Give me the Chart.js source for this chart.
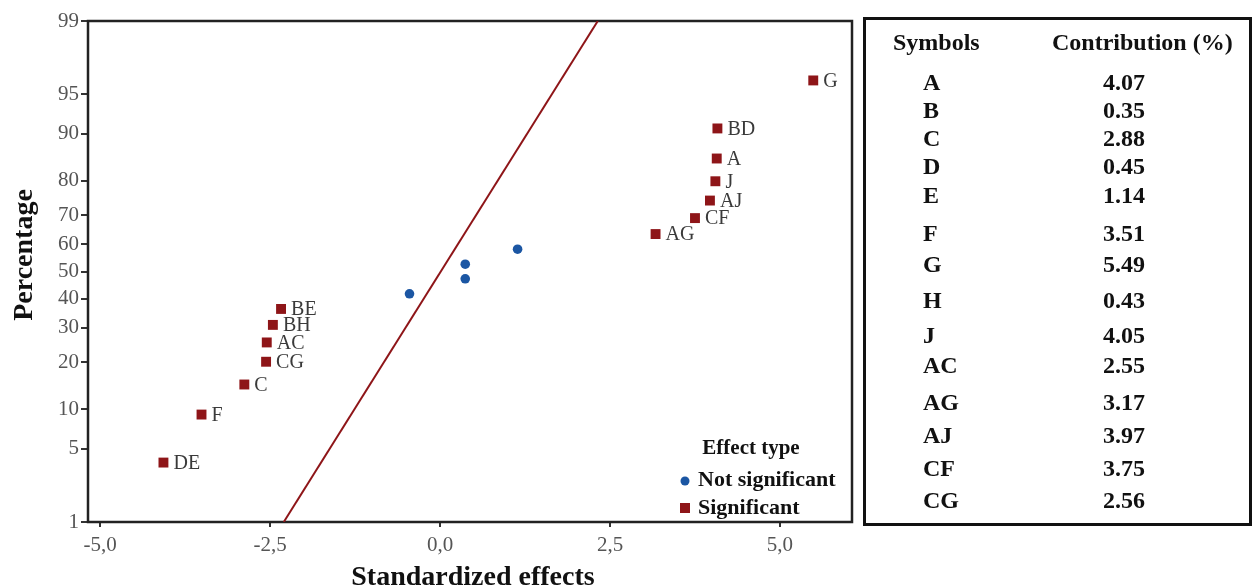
<!DOCTYPE html>
<html>
<head>
<meta charset="utf-8">
<script src="https://cdn.jsdelivr.net/npm/chart.js@4.4.1/dist/chart.umd.min.js"></script>
<style>
  html, body { margin: 0; padding: 0; background: #fff; }
  #wrap { position: relative; width: 1256px; height: 587px; overflow: hidden; }
  #chartBox { position: absolute; left: 0; top: 0; width: 1256px; height: 587px; }
  #tbl {
    position: absolute; left: 863px; top: 17px; width: 383px; height: 503px;
    border: 3px solid #111; font-family: "Liberation Serif", serif;
    font-weight: bold; font-size: 24px; color: #111;
  }
  #tbl div { position: absolute; white-space: nowrap; line-height: 1; transform: translateY(-50%); }
</style>
</head>
<body>
<div id="wrap">
  <div id="chartBox"><canvas id="normplot"></canvas></div>
  <div id="tbl"></div>
</div>
<script>
// significant effects (red squares), sorted by effect
const sigLabels = ["DE", "F", "C", "CG", "AC", "BH", "BE", "AG", "CF", "AJ", "J", "A", "BD", "G"];
const sigEffects = [-4.07, -3.51, -2.88, -2.56, -2.55, -2.46, -2.34, 3.17, 3.75, 3.97, 4.05, 4.07, 4.08, 5.49];
const sigPercent = [3.8, 9.2, 14.7, 20.1, 25.5, 31.0, 36.4, 63.6, 69.0, 74.5, 79.9, 85.3, 90.8, 96.2];

// not significant effects (blue dots)
const nsEffects = [-0.45, 0.37, 0.37, 1.14];
const nsPercent = [41.8, 47.3, 52.7, 58.2];

// reference line ends
const refEffects = [-2.3, 2.32];
const refPercent = [1, 99];

// axis ticks
const xTicks = [-5, -2.5, 0, 2.5, 5];
const yTicks = [1, 5, 10, 20, 30, 40, 50, 60, 70, 80, 90, 95, 99];

// table on the right
const symbols = ["A", "B", "C", "D", "E", "F", "G", "H", "J", "AC", "AG", "AJ", "CF", "CG"];
const contributions = ["4.07", "0.35", "2.88", "0.45", "1.14", "3.51", "5.49", "0.43", "4.05", "2.55", "3.17", "3.97", "3.75", "2.56"];
// row centres (px from top of page), layout only
const rowY = [82, 110, 138, 166, 195, 233, 264, 300, 335, 365, 402, 435, 468, 500];

const RED = "#8e1518";
const BLUE = "#1b56a3";
const SERIF = "'Liberation Serif', 'Times New Roman', serif";

// inverse normal cdf (Acklam)
function probit(p) {
  const a = [-3.969683028665376e+01, 2.209460984245205e+02, -2.759285104469687e+02, 1.383577518672690e+02, -3.066479806614716e+01, 2.506628277459239e+00];
  const b = [-5.447609879822406e+01, 1.615858368580409e+02, -1.556989798598866e+02, 6.680131188771972e+01, -1.328068155288572e+01];
  const c = [-7.784894002430293e-03, -3.223964580411365e-01, -2.400758277161838e+00, -2.549732539343734e+00, 4.374664141464968e+00, 2.938163982698783e+00];
  const d = [7.784695709041462e-03, 3.224671290700398e-01, 2.445134137142996e+00, 3.754408661907416e+00];
  const pl = 0.02425;
  let q, r;
  if (p < pl) {
    q = Math.sqrt(-2 * Math.log(p));
    return (((((c[0] * q + c[1]) * q + c[2]) * q + c[3]) * q + c[4]) * q + c[5]) / ((((d[0] * q + d[1]) * q + d[2]) * q + d[3]) * q + 1);
  }
  if (p > 1 - pl) {
    q = Math.sqrt(-2 * Math.log(1 - p));
    return -(((((c[0] * q + c[1]) * q + c[2]) * q + c[3]) * q + c[4]) * q + c[5]) / ((((d[0] * q + d[1]) * q + d[2]) * q + d[3]) * q + 1);
  }
  q = p - 0.5; r = q * q;
  return (((((a[0] * r + a[1]) * r + a[2]) * r + a[3]) * r + a[4]) * r + a[5]) * q / (((((b[0] * r + b[1]) * r + b[2]) * r + b[3]) * r + b[4]) * r + 1);
}

function normCdf(z) {
  const t = 1 / (1 + 0.3275911 * Math.abs(z) / Math.SQRT2);
  const y = 1 - (((((1.061405429 * t - 1.453152027) * t) + 1.421413741) * t - 0.284496736) * t + 0.254829592) * t * Math.exp(-z * z / 2);
  return z >= 0 ? 0.5 * (1 + y) : 0.5 * (1 - y);
}

// probability (normal) scale, values in percent
class ProbitScale extends Chart.Scale {
  determineDataLimits() {
    this.min = this.options.min;
    this.max = this.options.max;
  }
  buildTicks() {
    return yTicks.map((v) => ({ value: v }));
  }
  getLabelForValue(v) {
    return String(v);
  }
  configure() {
    super.configure();
    this._zmin = probit(this.min / 100);
    this._zmax = probit(this.max / 100);
  }
  getPixelForValue(v) {
    const z = probit(v / 100);
    return this.getPixelForDecimal((z - this._zmin) / (this._zmax - this._zmin));
  }
  getValueForPixel(px) {
    const dec = this.getDecimalForPixel(px);
    return normCdf(this._zmin + dec * (this._zmax - this._zmin)) * 100;
  }
}
ProbitScale.id = "probit";
ProbitScale.defaults = {};
Chart.register(ProbitScale);

// frame, axis titles, point labels, legend
const decorPlugin = {
  id: "decor",
  beforeDatasetsDraw(chart) {
    const ctx = chart.ctx;
    const a = chart.chartArea;
    ctx.save();
    ctx.strokeStyle = "#222";
    ctx.lineWidth = 2.5;
    ctx.strokeRect(a.left, a.top, a.right - a.left, a.bottom - a.top);
    ctx.restore();
  },
  afterDatasetsDraw(chart) {
    const ctx = chart.ctx;
    ctx.save();
    // labels next to the significant effects
    const meta = chart.getDatasetMeta(0);
    ctx.font = "20px " + SERIF;
    ctx.fillStyle = "#3a3a3a";
    ctx.textBaseline = "middle";
    ctx.textAlign = "left";
    meta.data.forEach((el, i) => {
      ctx.fillText(sigLabels[i], el.x + 10, el.y + 1);
    });

    // legend
    ctx.fillStyle = "#111";
    ctx.font = "bold 21px " + SERIF;
    ctx.textAlign = "center";
    ctx.fillText("Effect type", 751, 449);
    ctx.textAlign = "left";
    ctx.font = "bold 22px " + SERIF;
    ctx.fillText("Not significant", 698, 480);
    ctx.fillText("Significant", 698, 508);
    ctx.fillStyle = BLUE;
    ctx.beginPath();
    ctx.arc(685, 481, 4.5, 0, Math.PI * 2);
    ctx.fill();
    ctx.fillStyle = RED;
    ctx.fillRect(680, 503, 10, 10);

    // axis titles
    ctx.fillStyle = "#111";
    ctx.font = "bold 28px " + SERIF;
    ctx.textAlign = "center";
    ctx.textBaseline = "alphabetic";
    ctx.fillText("Standardized effects", 473, 585);
    ctx.translate(32, 255);
    ctx.rotate(-Math.PI / 2);
    ctx.fillText("Percentage", 0, 0);
    ctx.restore();
  },
};

const toPoints = (xs, ys) => xs.map((x, i) => ({ x: x, y: ys[i] }));

const ctx = document.getElementById("normplot").getContext("2d");
const chart = new Chart(ctx, {
  type: "scatter",
  data: {
    datasets: [
      {
        label: "Significant",
        data: toPoints(sigEffects, sigPercent),
        pointStyle: "rect",
        pointRadius: 7,
        backgroundColor: RED,
        borderColor: RED,
        borderWidth: 0,
      },
      {
        label: "Not significant",
        data: toPoints(nsEffects, nsPercent),
        pointStyle: "circle",
        pointRadius: 4.8,
        backgroundColor: BLUE,
        borderColor: BLUE,
        borderWidth: 0,
      },
      {
        label: "Reference",
        data: toPoints(refEffects, refPercent),
        showLine: true,
        pointRadius: 0,
        borderColor: RED,
        borderWidth: 2,
        fill: false,
        order: 1,
      },
    ],
  },
  options: {
    responsive: true,
    maintainAspectRatio: false,
    animation: false,
    layout: {
      padding: { left: 0, right: 404, top: 21, bottom: 0 },
    },
    scales: {
      x: {
        type: "linear",
        min: -5.18,
        max: 6.06,
        afterBuildTicks: function (scale) {
          scale.ticks = xTicks.map((v) => ({ value: v }));
        },
        afterFit: function (scale) {
          scale.height = 65;
        },
        border: { display: false },
        grid: {
          drawOnChartArea: false,
          drawTicks: true,
          tickLength: 5,
          color: "#333",
          lineWidth: 2,
        },
        ticks: {
          autoSkip: false,
          maxRotation: 0,
          padding: 6,
          color: "#555",
          font: { family: SERIF, size: 21 },
          callback: function (value) {
            return value.toFixed(1).replace(".", ",");
          },
        },
      },
      y: {
        type: "probit",
        min: 1,
        max: 99,
        afterFit: function (scale) {
          scale.width = 88;
        },
        border: { display: false },
        grid: {
          drawOnChartArea: false,
          drawTicks: true,
          tickLength: 7,
          color: "#333",
          lineWidth: 2,
        },
        ticks: {
          autoSkip: false,
          padding: 2,
          color: "#555",
          font: { family: SERIF, size: 21 },
        },
      },
    },
    plugins: {
      legend: { display: false },
      tooltip: { enabled: false },
    },
  },
  plugins: [decorPlugin],
});

// contribution table
const tbl = document.getElementById("tbl");
const TOP = 20; // inner top of the table box
function addCell(text, left, y) {
  const el = document.createElement("div");
  el.textContent = text;
  el.style.left = left + "px";
  el.style.top = (y - TOP) + "px";
  tbl.appendChild(el);
}
addCell("Symbols", 27, 42);
addCell("Contribution (%)", 186, 42);
symbols.forEach((s, i) => {
  addCell(s, 57, rowY[i]);
  addCell(contributions[i], 237, rowY[i]);
});
</script>
</body>
</html>
